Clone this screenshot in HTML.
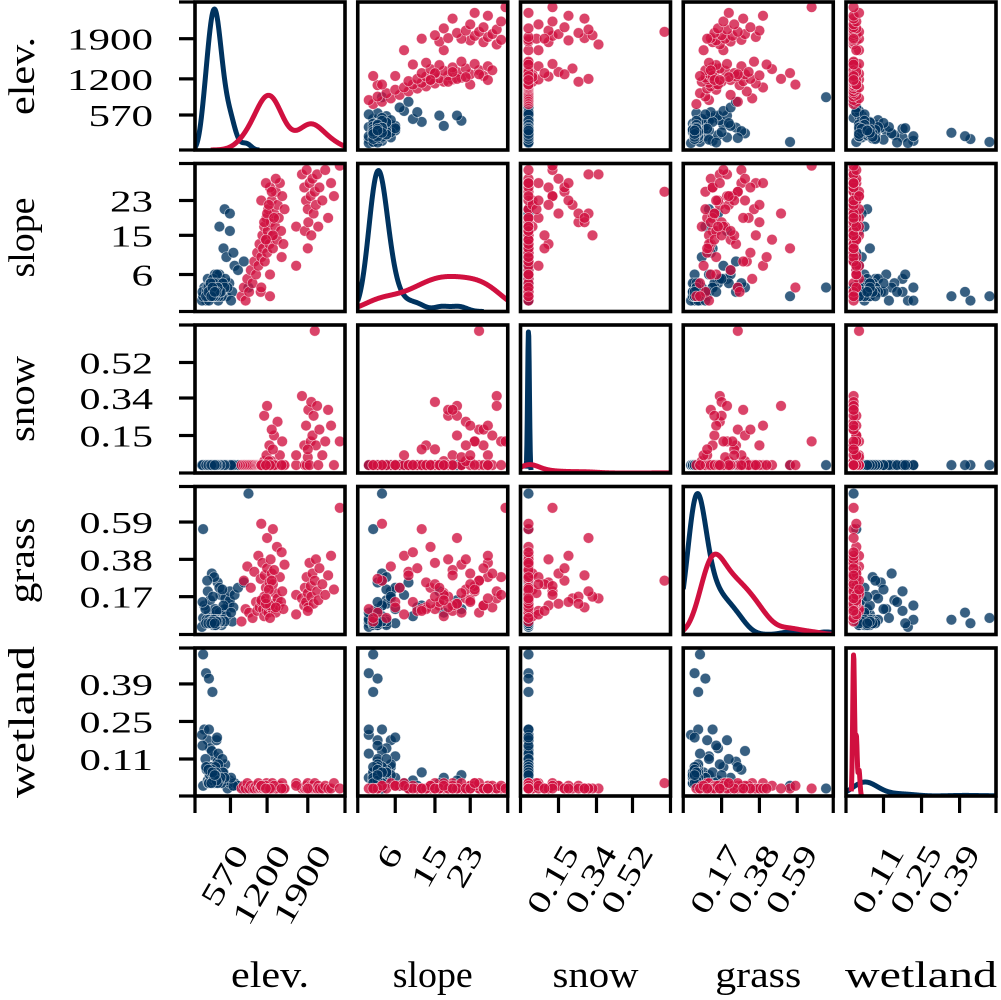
<!DOCTYPE html>
<html><head><meta charset="utf-8">
<style>
html,body{margin:0;padding:0;background:#fff;}
svg{display:block;}
text{font-family:"Liberation Serif",serif;fill:#000;}
</style></head>
<body>
<svg id="chart" width="1001" height="1000" viewBox="0 0 1001 1000" xmlns="http://www.w3.org/2000/svg"></svg>
<script>
// ---- data ----
const varNames = ["elev.", "slope", "snow", "grass", "wetland"];
const elevTicks = [570, 1200, 1900];
const slopeTicks = [6, 15, 23];
const snowTicks = [0.15, 0.34, 0.52];
const grassTicks = [0.17, 0.38, 0.59];
const wetlandTicks = [0.11, 0.25, 0.39];
const elevTickLabels = ["570", "1200", "1900"];
const slopeTickLabels = ["6", "15", "23"];
const snowTickLabels = ["0.15", "0.34", "0.52"];
const grassTickLabels = ["0.17", "0.38", "0.59"];
const wetlandTickLabels = ["0.11", "0.25", "0.39"];

const blueElev = [100,150,200,260,120,180,220,300,350,400,450,500,550,600,80,250,320,380,420,480,140,290,360,520,100,880,470,560,380,560,450,500,640,700,800,620,200,330,90,430,270,580,170,340,
180,210,240,270,300,330,360,390,420,160,190,230,280,310,340,370,410,440,470,250,260,290,200,320,350,380,150,220,300,400,230,270,310,350,190,280,330,260,240,300];
const blueSlope = [1,0,2,1,3,5,4,6,2,5,3,1,4,2,0,3,1,6,2,5,2,4,0,3,1,3,21,20,17,16,12,10,8,7,9,11,0,2,2,4,5,0,3,6,
1,2,3,2,1,4,2,3,1,2,3,1,4,2,3,1,2,4,3,2,1,3,2,1,3,2,1,2,3,2,4,1,2,3,2,1,2,3,1,2];
const blueSnow = [0,0,0,0,0,0,0,0,0,0,0,0,0,0,0,0,0,0,0,0,0,0,0,0,0,0,0,0,0,0,0,0,0,0,0,0,0,0,0,0,0,0,0,0,
0,0,0,0,0,0,0,0,0,0,0,0,0,0,0,0,0,0,0,0,0,0,0,0,0,0,0,0,0,0,0,0,0,0,0,0,0,0,0,0];
const blueGrass = [0.05,0.02,0.08,0.04,0.12,0.20,0.15,0.10,0.25,0.18,0.06,0.09,0.13,0.03,0.00,0.30,0.07,0.22,0.01,0.16,0.10,0.28,0.05,0.12,0.55,0.75,0.10,0.15,0.08,0.20,0.12,0.06,0.18,0.22,0.25,0.11,0.04,0.09,0.14,0.21,0.17,0.08,0.26,0.02,
0.02,0.03,0.04,0.01,0.03,0.02,0.04,0.02,0.03,0.04,0.03,0.02,0.01,0.03,0.04,0.02,0.03,0.04,0.03,0.02,0.02,0.03,0.04,0.01,0.03,0.03,0.02,0.02,0.04,0.03,0.03,0.02,0.01,0.03,0.02,0.04,0.03,0.03,0.02,0.02];
const blueWetland = [0.50,0.43,0.41,0.36,0.22,0.18,0.15,0.12,0.10,0.08,0.05,0.03,0.02,0.01,0.20,0.14,0.06,0.04,0.02,0.09,0.11,0.07,0.13,0.00,0.01,0.00,0.05,0.03,0.04,0.02,0.06,0.03,0.02,0.01,0.00,0.01,0.22,0.18,0.16,0.11,0.05,0.04,0.08,0.19,
0.03,0.05,0.08,0.02,0.06,0.04,0.09,0.03,0.05,0.07,0.02,0.06,0.04,0.08,0.03,0.05,0.02,0.06,0.04,0.07,0.03,0.05,0.02,0.06,0.04,0.03,0.08,0.05,0.02,0.04,0.06,0.03,0.05,0.02,0.07,0.04,0.03,0.06,0.02,0.05];

const redElev = [760,800,830,860,890,920,950,980,1010,1030,1050,1070,1090,1100,1120,1130,1150,1160,1180,1190,1200,1210,1220,1240,1250,1260,1280,1290,1300,1320,1340,1350,1370,1380,1400,1420,1440,1460,1480,1500,1150,1250,1300,1100,1200,1350,1700,1280,1180,1230,1800,1320,1840,1850,1870,1880,1900,1910,1930,1950,1960,1980,2000,2020,2040,2060,2080,2100,2150,2200,2250,2300,2350,2450,1100,1250,1450,1700,1900,1180];
const redSlope = [1,3,0,5,2,7,4,9,6,11,8,13,2,10,15,12,17,9,14,19,11,16,21,13,6,18,23,15,12,20,17,25,14,22,19,27,16,24,13,21,18,26,15,23,20,28,17,25,14,22,29,19,26,16,23,30,21,18,27,24,15,28,20,25,22,29,17,26,23,30,19,27,24,31,3,1,10,8,12,27];
const redSnow = [0,0,0,0,0,0,0,0,0,0,0,0,0,0,0,0,0.02,0,0,0.05,0,0,0,0.1,0,0,0.02,0,0,0.15,0,0,0,0.22,0,0.05,0,0.12,0,0,0.25,0,0.08,0,0.3,0,0,0.18,0,0.02,0.35,0,0.1,0,0.2,0,0.04,0.28,0,0.12,0.32,0.15,0.25,0.68,0.1,0.3,0,0.18,0.05,0.12,0.28,0.2,0,0.12,0,0,0,0.05,0.08,0];
const redGrass = [0.03,0.26,0.10,0.34,0.08,0.22,0.05,0.31,0.14,0.09,0.40,0.11,0.27,0.14,0.36,0.10,0.06,0.29,0.22,0.09,0.33,0.12,0.08,0.25,0.11,0.38,0.30,0.10,0.55,0.13,0.19,0.08,0.45,0.16,0.12,0.28,0.14,0.20,0.10,0.35,0.17,0.12,0.24,0.15,0.50,0.11,0.18,0.26,0.13,0.21,0.16,0.32,0.12,0.22,0.14,0.28,0.19,0.11,0.36,0.23,0.17,0.30,0.13,0.26,0.38,0.20,0.15,0.33,0.24,0.18,0.29,0.40,0.21,0.67,0.58,0.05,0.42,0.07,0.09,0.16];
const redWetland = [0,0.01,0,0.02,0,0.01,0,0,0.01,0,0.02,0,0,0.01,0,0,0.01,0,0,0.02,0,0.01,0,0,0.01,0,0,0.02,0,0.01,0,0,0.01,0,0,0.01,0,0.02,0,0,0.01,0,0,0.01,0,0,0.02,0,0.01,0,0,0.01,0,0,0.01,0,0.02,0,0,0.01,0,0.01,0,0.02,0,0,0.01,0,0,0.01,0,0,0.02,0,0.01,0,0,0.01,0,0];

// ---- layout ----
const NS = "http://www.w3.org/2000/svg";
const svg = document.getElementById("chart");
const colX = [195, 357.75, 520.5, 683.25, 846];
const rowY = [2, 163.5, 325, 486.5, 648];
const PW = 150, PH = 148;
const ranges = [[-40,2540],[-2.5,31.5],[-0.04,0.71],[-0.043,0.79],[-0.028,0.524]];
const tickVals = [elevTicks, slopeTicks, snowTicks, grassTicks, wetlandTicks];
const tickLabs = [elevTickLabels, slopeTickLabels, snowTickLabels, grassTickLabels, wetlandTickLabels];
const titleLen = [78, 80, 86, 86, 152];
const blue = [blueElev, blueSlope, blueSnow, blueGrass, blueWetland];
const red = [redElev, redSlope, redSnow, redGrass, redWetland];
const BLUE = "#00335f", RED = "#d0103f";

function sx(v, val){ const r = ranges[v]; return colX[v] + (val - r[0])/(r[1]-r[0])*PW; }
function sy(v, val){ const r = ranges[v]; return rowY[v] + PH - (val - r[0])/(r[1]-r[0])*PH; }
function labLen(s){ let w=0; for (const ch of s) w += (ch==='.')?9:21.5; return w; }

function mk(tag, attrs, parent){
  const e = document.createElementNS(NS, tag);
  for (const k in attrs) e.setAttribute(k, attrs[k]);
  (parent||svg).appendChild(e);
  return e;
}

const defs = mk("defs", {});
for (let r=0;r<5;r++) for (let c=0;c<5;c++){
  const cp = mk("clipPath", {id:"cp"+r+"_"+c}, defs);
  mk("rect", {x:colX[c], y:rowY[r], width:PW, height:PH}, cp);
}

function kde(data, grid, bwMin){
  const n = data.length;
  const mean = data.reduce((a,b)=>a+b,0)/n;
  const sd = Math.sqrt(data.reduce((a,b)=>a+(b-mean)*(b-mean),0)/(n-1));
  const bw = Math.max(sd*Math.pow(n,-0.2), bwMin);
  const lo = Math.min(...data) - 3*bw, hi = Math.max(...data) + 3*bw;
  return grid.map(x => {
    if (x < lo || x > hi) return null;
    let s = 0;
    for (const d of data){ const z=(x-d)/bw; s += Math.exp(-0.5*z*z); }
    return s/(n*bw*Math.sqrt(2*Math.PI));
  });
}

const N = blueElev.length + redElev.length;
for (let r=0;r<5;r++){
  for (let c=0;c<5;c++){
    const g = mk("g", {"clip-path":"url(#cp"+r+"_"+c+")"});
    
    
    if (r===c){
      const rg = ranges[c];
      const grid = [];
      for (let i=0;i<=400;i++) grid.push(rg[0] + (rg[1]-rg[0])*i/400);
      const span = rg[1]-rg[0];
      const db = kde(blue[c], grid, span*0.006).map(v=>v===null?null:v*blue[c].length/N);
      const dr = kde(red[c], grid, span*0.006).map(v=>v===null?null:v*red[c].length/N);
      let mx = 0;
      db.concat(dr).forEach(v=>{ if(v!==null && v>mx) mx=v; });
      mx *= 1.05;
      [[db,BLUE,'blue'],[dr,RED,'red']].forEach(([d,col,nm])=>{
        let pts = [];
        d.forEach((v,i)=>{ if(v!==null) pts.push((colX[c]+(grid[i]-rg[0])/span*PW).toFixed(2)+","+(rowY[r]+PH-v/mx*PH).toFixed(2)); });
        const p = mk("polyline", {points:pts.join(" "), fill:"none", stroke:col, "stroke-width":5, "stroke-linejoin":"round", "stroke-linecap":"butt"}, g);
        
        
      });
    } else {
      [[blue,BLUE,'blue'],[red,RED,'red']].forEach(([ds,col,nm])=>{
        const xs = ds[c], ys = ds[r];
        for (let i=0;i<xs.length;i++){
          const ci = mk("circle", {cx:sx(c,xs[i]).toFixed(2), cy:sy(r,ys[i]).toFixed(2), r:5.3, fill:col, "fill-opacity":0.78, stroke:"#fff", "stroke-opacity":0.6, "stroke-width":0.6}, g);
          
          
        }
      });
    }
    const fr = mk("rect", {x:colX[c], y:rowY[r], width:PW, height:PH, fill:"none", stroke:"#000", "stroke-width":3.6});
    
    
  }
}

// y axes (left column)
for (let r=0;r<5;r++){
  const edges = [rowY[r], rowY[r]+PH];
  edges.forEach(y=>{ mk("line",{x1:179,x2:colX[0],y1:y,y2:y,stroke:"#000","stroke-width":3.2}); });
  tickVals[r].forEach((t,i)=>{
    const y = sy(r,t);
    const tk = mk("line",{x1:179,x2:colX[0],y1:y,y2:y,stroke:"#000","stroke-width":3.2});
    
    
    const s = tickLabs[r][i];
    const tx = mk("text",{x:153,y:y+11,"text-anchor":"end","font-size":31,textLength:labLen(s),lengthAdjust:"spacingAndGlyphs"});
    tx.textContent = s;
    
    
  });
  const cy = rowY[r]+PH/2;
  const lab = mk("text",{x:0,y:0,"text-anchor":"middle","font-size":37,textLength:titleLen[r],lengthAdjust:"spacingAndGlyphs",transform:"translate(34,"+cy+") rotate(-90)"});
  lab.textContent = varNames[r];
  
  
}

// x axes (bottom row)
const by = rowY[4]+PH;
for (let c=0;c<5;c++){
  [colX[c], colX[c]+PW].forEach(x=>{ mk("line",{x1:x,x2:x,y1:by,y2:813,stroke:"#000","stroke-width":3.2}); });
  tickVals[c].forEach((t,i)=>{
    const x = sx(c,t);
    const tk = mk("line",{x1:x,x2:x,y1:by,y2:813,stroke:"#000","stroke-width":3.2});
    
    
    const s = tickLabs[c][i];
    const L = labLen(s);
    const tx = mk("text",{x:0,y:0,"text-anchor":"middle","dominant-baseline":"central","font-size":31,textLength:L,lengthAdjust:"spacingAndGlyphs"});
    tx.textContent = s;
    
    
    const h = 22;
    const bh = L*Math.sin(Math.PI/3) + h*0.5;
    tx.setAttribute("transform","translate("+(x-6).toFixed(1)+","+(842+bh/2).toFixed(1)+") rotate(-60)");
  });
  const lab = mk("text",{x:colX[c]+PW/2,y:987,"text-anchor":"middle","font-size":37,textLength:titleLen[c],lengthAdjust:"spacingAndGlyphs"});
  lab.textContent = varNames[c];
  
  
}
</script>
</body></html>
